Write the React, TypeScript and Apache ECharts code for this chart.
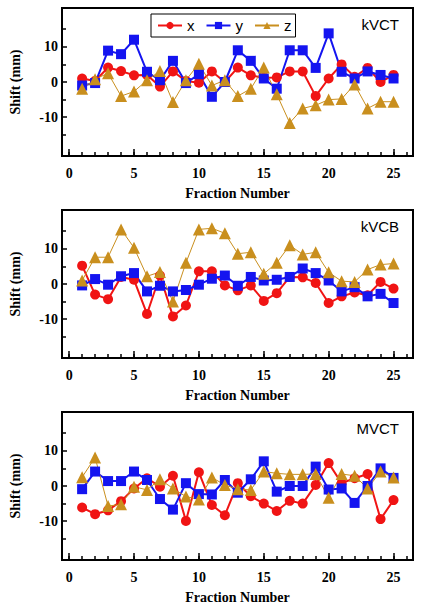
import React, { useEffect, useRef } from "react";
import * as echarts from "echarts";

const fractions = Array.from({ length: 25 }, (_, i) => i + 1);

const kvctX = [1, 0.3, 4.1, 3.1, 1.9, 2, -1.3, 3, 0.3, -0.2, 3, 0, 4.1, 1.9, 1.2, 1.3, 3, 3, -4, 1, 5, 1.5, 4, 0, 2];
const kvctY = [-1, -0.3, 8.9, 7.9, 12, 2.9, 0.5, 6, -0.3, 2.2, -4.2, 0, 9, 6, 1, -1.9, 9, 9, 4, 13.8, 2.9, 1, 3, 2, 1];
const kvctZ = [-1.9, 0.8, 2.5, -4, -2.7, 0.5, 3.1, -5.7, 0.5, 5.2, -1, 0.5, -4, -1.9, 4.1, -3.5, -11.6, -7.5, -6.6, -5, -4.8, -0.7, -7.5, -5.6, -5.6];

const kvcbX = [5.2, -3, -4.3, 2, 1.2, -8.5, 2.4, -9.2, -6.1, 3.6, 3.6, -0.4, -1.8, -0.4, -4.8, -2.6, 2, 1.9, 0.3, -5.4, -3.5, -2.4, -3.2, 0.6, -1.3];
const kvcbY = [-0.4, 1.4, -0.2, 2.2, 3.1, -2.1, -0.5, -2.1, -1.7, -0.2, 1.5, 2.4, -0.5, 2, 1, 1.2, 2, 4.4, 3.1, 1, -2.1, -0.9, -3.5, -2.8, -5.4];
const kvcbZ = [1, 7.6, 7.6, 15.5, 10.3, 2.2, 3.4, -5, 6, 15.5, 15.8, 14.4, 8.6, 9, 2.9, 6, 11, 8.4, 9, 3.3, 0.8, 0.6, 4.1, 5.5, 5.8];

const mvctX = [-6.1, -8, -6.9, -4.3, -0.7, 2.2, -0.2, 2.9, -9.9, 3.9, -5.4, -8.3, 0.8, -2.9, -5, -7.1, -4.2, -5, 0.3, 6.5, 0.8, 2.2, 3.4, -9.4, -4];
const mvctY = [-0.9, 4.1, 1.4, 1.4, 4.1, 1.7, -3.7, -6.7, 0.8, -2.3, -2.4, 1.7, -1.9, 1.9, 7, -1.6, 0, 0, 5.5, -1, -0.7, -4.8, 0, 5, 2.3];
const mvctZ = [2.5, 8.1, -5.7, -5.2, -0.2, -1.1, 1.9, -0.7, -3, -3.8, 2.4, 0.3, -0.9, -1.1, 4.1, 3.6, 3.3, 3.3, 3.4, -3.3, 3.4, 2.9, -0.7, 4.1, 2.4];

const panelNames = ["kVCT", "kVCB", "MVCT"];
const seriesNames = ["x", "y", "z"];
const xTickValues = Array.from({ length: 27 }, (_, i) => i);
const xLabelValues = [0, 5, 10, 15, 20, 25];
const yLabelValues = [-10, 0, 10];
const yMinorValues = [-15, -5, 5, 15];

const panels = [
  [kvctX, kvctY, kvctZ],
  [kvcbX, kvcbY, kvcbZ],
  [mvctX, mvctY, mvctZ],
];

const colors = ["#f01414", "#1414f0", "#c98f1e"];
const symbols = ["circle", "rect", "triangle"];
const symbolSizes = [10, 10, 12];
const lineWidths = [2, 2, 1];

const SERIF = "'Liberation Serif', 'Times New Roman', serif";
const SANS = "'Liberation Sans', Arial, sans-serif";

export default function App() {
  const ref = useRef<HTMLDivElement>(null);
  useEffect(() => {
    if (!ref.current) return;
    const chart = echarts.init(ref.current, undefined, { renderer: "svg" });
    const tops = [8, 210, 412];
    const grids: any[] = [];
    const xAxes: any[] = [];
    const yAxes: any[] = [];
    const series: any[] = [];
    const graphics: any[] = [];
    tops.forEach((top, p) => {
      grids.push({
        left: 61,
        top,
        width: 352,
        height: 148,
        show: true,
        borderColor: "#000",
        borderWidth: 2,
        backgroundColor: "transparent",
      });
      const baseX = {
        type: "value",
        gridIndex: p,
        min: -0.55,
        max: 26.5,
        position: "bottom",
        offset: 0,
        splitLine: { show: false },
        axisLine: { show: true, onZero: false, lineStyle: { color: "#000", width: 2 } },
      };
      xAxes.push({
        ...baseX,
        name: "Fraction Number",
        nameLocation: "middle",
        nameGap: 30,
        nameTextStyle: { fontFamily: SERIF, fontWeight: "bold", fontSize: 14, color: "#000" },
        axisTick: { show: true, inside: true, length: 4, customValues: xTickValues, lineStyle: { color: "#000", width: 1.5 } },
        axisLabel: {
          show: true,
          customValues: xLabelValues,
          margin: 10,
          fontFamily: SERIF,
          fontWeight: "bold",
          fontSize: 14,
          color: "#000",
        },
      });
      xAxes.push({
        ...baseX,
        axisTick: { show: true, inside: true, length: 7, customValues: xLabelValues, lineStyle: { color: "#000", width: 1.5 } },
        axisLabel: { show: false },
      });
      const baseY = {
        type: "value",
        gridIndex: p,
        min: -21,
        max: 21,
        position: "left",
        offset: 0,
        splitLine: { show: false },
        axisLine: { show: true, onZero: false, lineStyle: { color: "#000", width: 2 } },
      };
      yAxes.push({
        ...baseY,
        name: "Shift (mm)",
        nameLocation: "middle",
        nameGap: 40,
        nameTextStyle: { fontFamily: SERIF, fontWeight: "bold", fontSize: 14, color: "#000" },
        axisTick: { show: true, inside: true, length: 5, customValues: yLabelValues, lineStyle: { color: "#000", width: 1.5 } },
        axisLabel: {
          show: true,
          customValues: yLabelValues,
          margin: 4,
          fontFamily: SERIF,
          fontWeight: "bold",
          fontSize: 14,
          color: "#000",
        },
      });
      yAxes.push({
        ...baseY,
        axisTick: { show: true, inside: true, length: 4, customValues: yMinorValues, lineStyle: { color: "#000", width: 1.5 } },
        axisLabel: { show: false },
      });
      panels[p].forEach((vals, s) => {
        series.push({
          name: seriesNames[s],
          type: "line",
          xAxisIndex: p * 2,
          yAxisIndex: p * 2,
          data: fractions.map((f, i) => [f, vals[i]]),
          symbol: symbols[s],
          symbolSize: symbolSizes[s],
          showAllSymbol: true,
          color: colors[s],
          itemStyle: { color: colors[s] },
          lineStyle: { color: colors[s], width: lineWidths[s] },
        });
      });
      graphics.push({
        type: "text",
        right: 422 - 399,
        top: top + 9,
        style: { text: panelNames[p], fontFamily: SANS, fontSize: 15, fill: "#000" },
      });
    });
    chart.setOption({
      animation: false,
      backgroundColor: "#fff",
      grid: grids,
      xAxis: xAxes,
      yAxis: yAxes,
      series,
      graphic: graphics,
      legend: {
        data: seriesNames,
        left: 151,
        top: 14,
        orient: "horizontal",
        borderColor: "#000",
        borderWidth: 1,
        padding: [4, 4, 4, 6],
        itemWidth: 24,
        itemHeight: 9,
        itemGap: 11,
        textStyle: { fontFamily: SANS, fontSize: 15, color: "#000" },
      },
    });
    return () => chart.dispose();
  }, []);
  return <div ref={ref} style={{ position: "fixed", left: 0, top: 0, width: 422, height: 609 }} />;
}
